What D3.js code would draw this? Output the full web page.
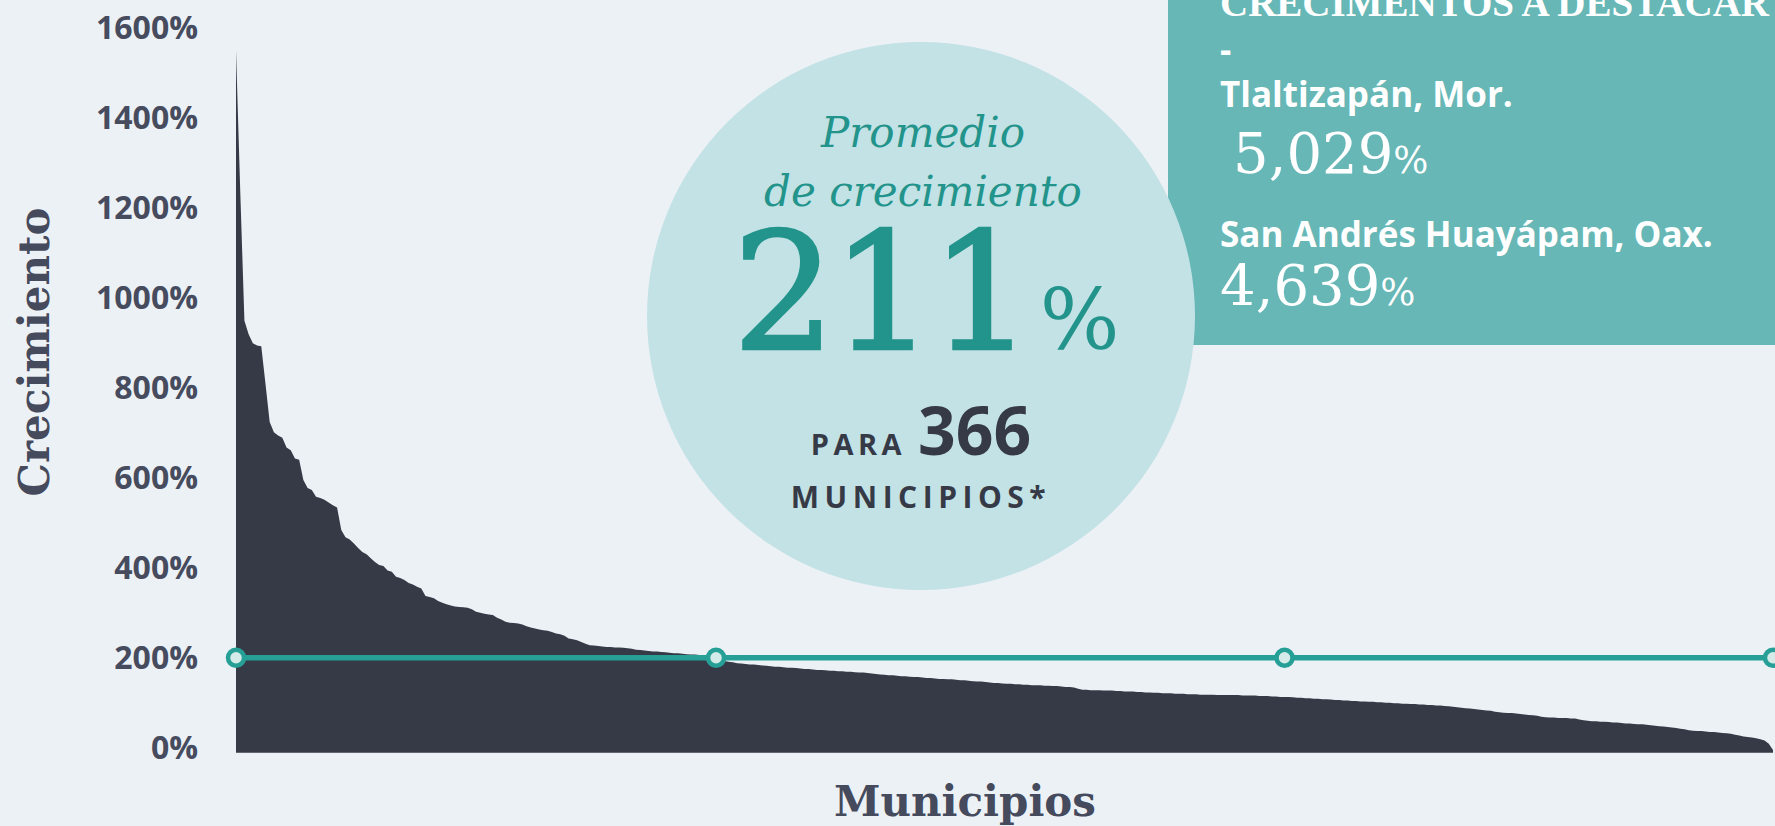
<!DOCTYPE html>
<head>
    <meta charset="utf-8">
    <script src="https://d3js.org/d3.v7.min.js"></script>
    <style>
        body { margin: 0; background: #ecf1f6; }
        svg { display: block; }
        .y.axis path { display: none; }
        .y.axis text {
            font: 700 32px "Open Sans", sans-serif;
            fill: #464b5e;
        }
    </style>
</head>

<body>
    <div id='chart-container'></div>
</body>

<script>
    // crecimiento por municipio, ordenado de mayor a menor (366 municipios)
    var growth = [
        1561, 1250, 960, 930, 910, 905, 903, 820, 735, 712, 705, 700, 678, 672, 654, 651, 606, 588, 584, 569,
        566, 562, 556, 550, 545, 495, 479, 474, 465, 455, 446, 441, 432, 424, 417, 415, 405, 402, 391, 388,
        384, 377, 374, 369, 365, 348, 346, 343, 337, 333, 330, 327, 325, 324, 323, 322, 319, 313, 311, 309,
        307, 306, 300, 296, 291, 289, 288, 287, 285, 281, 278, 276, 274, 272, 271, 268, 265, 263, 260, 254,
        252, 250, 246, 242, 239, 238, 237, 236, 235, 235, 234, 234, 233, 232, 231, 229, 228, 227, 226, 225,
        225, 224, 223, 222, 221, 221, 220, 219, 218, 218, 217, 217, 216, 214, 211, 206, 204, 202, 201, 199,
        198, 197, 196, 196, 195, 194, 193, 192, 191, 191, 190, 189, 189, 188, 187, 186, 186, 185, 184, 184,
        183, 182, 182, 181, 181, 180, 180, 179, 178, 178, 177, 176, 175, 174, 173, 172, 172, 171, 170, 170,
        169, 168, 168, 167, 166, 166, 165, 164, 164, 163, 163, 162, 161, 161, 160, 159, 158, 158, 157, 156,
        155, 155, 154, 153, 153, 152, 152, 151, 151, 150, 150, 150, 149, 149, 148, 148, 147, 146, 146, 145,
        142, 140, 140, 139, 139, 139, 138, 138, 138, 137, 137, 136, 136, 136, 135, 135, 134, 134, 133, 133,
        132, 132, 132, 131, 131, 131, 130, 130, 130, 129, 129, 129, 129, 128, 128, 128, 128, 128, 128, 127,
        127, 127, 127, 126, 126, 126, 125, 125, 124, 124, 124, 123, 122, 122, 121, 121, 120, 120, 119, 119,
        118, 117, 117, 116, 116, 115, 115, 114, 114, 113, 113, 112, 112, 111, 111, 110, 110, 109, 109, 108,
        108, 107, 107, 106, 106, 105, 105, 104, 103, 102, 101, 100, 99, 98, 97, 96, 95, 94, 93, 91,
        90, 89, 88, 88, 87, 86, 85, 84, 83, 82, 80, 79, 78, 78, 77, 77, 77, 76, 76, 74,
        72, 71, 70, 70, 69, 69, 68, 67, 67, 66, 65, 65, 64, 63, 63, 62, 61, 60, 59, 58,
        57, 56, 55, 53, 52, 50, 49, 48, 48, 47, 46, 46, 45, 44, 43, 42, 40, 38, 36, 35,
        34, 32, 30, 27, 20, 6
    ];
    var average = 211;
    var averageMarkers = [0, 114, 249, 365];   // índices donde se marca el promedio
    var yTicks = [0, 200, 400, 600, 800, 1000, 1200, 1400, 1600];

    var highlightNames = ["Tlaltizapán, Mor.", "San Andrés Huayápam, Oax."];
    var highlightValues = ["5,029", "4,639"];

    var width = 1775;
    var height = 826;

    var svg = d3.select("#chart-container").append("svg")
        .attr("width", width)
        .attr("height", height);

    var x = d3.scaleLinear()
        .domain([0, growth.length - 1])
        .range([236, 1773]);

    var y = d3.scaleLinear()
        .domain([0, 1600])
        .range([752.7, 32.7]);

    // y axis labels
    var yAxis = d3.axisLeft(y)
        .tickValues(yTicks)
        .tickSize(0)
        .tickPadding(38)
        .tickFormat(function(d){ return d + "%"; });

    svg.append("g")
        .attr("class", "y axis")
        .attr("transform", "translate(" + x(0) + ",-4)")
        .call(yAxis);

    // area
    var area = d3.area()
        .x(function(d, i){ return x(i); })
        .y0(y(0))
        .y1(function(d){ return y(d); });

    svg.append("path")
        .datum(growth)
        .attr("d", area)
        .attr("fill", "#363a47");

    // teal box with highlights
    var box = svg.append("g");
    box.append("rect")
        .attr("x", 1168)
        .attr("y", 0)
        .attr("width", width - 1168)
        .attr("height", 345)
        .attr("fill", "#66b7b6");

    box.append("text")
        .attr("x", 1220)
        .attr("y", 16)
        .attr("fill", "#ffffff")
        .style("font", "700 39px 'Liberation Serif', serif")
        .text("CRECIMENTOS A DESTACAR");

    box.append("text")
        .attr("x", 1220)
        .attr("y", 62)
        .attr("fill", "#ffffff")
        .style("font", "700 35px 'Open Sans', sans-serif")
        .text("-");

    var nameY = [107, 247];
    var valueY = [173, 305];
    var valueX = [1233, 1220];
    highlightNames.forEach(function(n, i){
        box.append("text")
            .attr("x", 1220)
            .attr("y", nameY[i])
            .attr("fill", "#ffffff")
            .style("font", "700 35px 'Open Sans', sans-serif")
            .text(n);
        var t = box.append("text")
            .attr("x", valueX[i])
            .attr("y", valueY[i])
            .attr("fill", "#ffffff")
            .style("font-family", "'DejaVu Serif', serif");
        t.append("tspan").style("font-size", "56px").text(highlightValues[i]);
        t.append("tspan").style("font-size", "37px").text("%");
    });

    // circle
    var cx = 921, cy = 316;
    svg.append("circle")
        .attr("cx", cx)
        .attr("cy", cy)
        .attr("r", 274)
        .attr("fill", "#c3e2e5");

    svg.append("text")
        .attr("x", cx + 2).attr("y", 147)
        .attr("text-anchor", "middle")
        .attr("fill", "#22948b")
        .style("font", "italic 400 42px 'DejaVu Serif', serif")
        .text("Promedio");

    svg.append("text")
        .attr("x", cx + 2).attr("y", 206)
        .attr("text-anchor", "middle")
        .attr("fill", "#22948b")
        .style("font", "italic 400 42px 'DejaVu Serif', serif")
        .text("de crecimiento");

    var big = svg.append("text")
        .attr("x", cx + 5).attr("y", 349)
        .attr("text-anchor", "middle")
        .attr("fill", "#22948b")
        .attr("stroke", "#22948b")
        .attr("stroke-width", 2.5)
        .style("font-family", "'DejaVu Serif', serif");
    big.append("tspan").style("font-size", "162px").attr("letter-spacing", "-4").text(average);
    big.append("tspan").style("font-size", "84px").attr("stroke-width", 0).attr("dx", 10).text("%");

    var para = svg.append("text")
        .attr("x", cx).attr("y", 455)
        .attr("text-anchor", "middle")
        .attr("fill", "#363a47")
        .style("font-family", "'Open Sans', sans-serif")
        .style("font-weight", 700);
    para.append("tspan").style("font-size", "29px").attr("letter-spacing", "4.5").text("PARA ");
    para.append("tspan").style("font-size", "66px").text(growth.length);

    svg.append("text")
        .attr("x", cx).attr("y", 508)
        .attr("text-anchor", "middle")
        .attr("fill", "#363a47")
        .attr("letter-spacing", "5.5")
        .style("font", "700 30px 'Open Sans', sans-serif")
        .text("MUNICIPIOS*");

    // average line with markers
    var avgLine = d3.line()
        .x(function(d){ return x(d); })
        .y(function(){ return y(average); });

    svg.append("path")
        .datum([averageMarkers[0], averageMarkers[averageMarkers.length - 1]])
        .attr("d", avgLine)
        .attr("fill", "none")
        .attr("stroke", "#26a096")
        .attr("stroke-width", 5.5);

    svg.selectAll(".marker")
        .data(averageMarkers)
        .enter()
        .append("circle")
        .attr("class", "marker")
        .attr("cx", function(d){ return x(d); })
        .attr("cy", y(average))
        .attr("r", 8)
        .attr("fill", "#d4ebe9")
        .attr("stroke", "#26a096")
        .attr("stroke-width", 4.5);

    // axis titles
    svg.append("text")
        .attr("transform", "translate(49,352) rotate(-90)")
        .attr("text-anchor", "middle")
        .attr("fill", "#454a5c")
        .style("font", "700 42px 'DejaVu Serif', serif")
        .text("Crecimiento");

    svg.append("text")
        .attr("x", 965)
        .attr("y", 816)
        .attr("text-anchor", "middle")
        .attr("fill", "#454a5c")
        .style("font", "700 42px 'DejaVu Serif', serif")
        .text("Municipios");
</script>
